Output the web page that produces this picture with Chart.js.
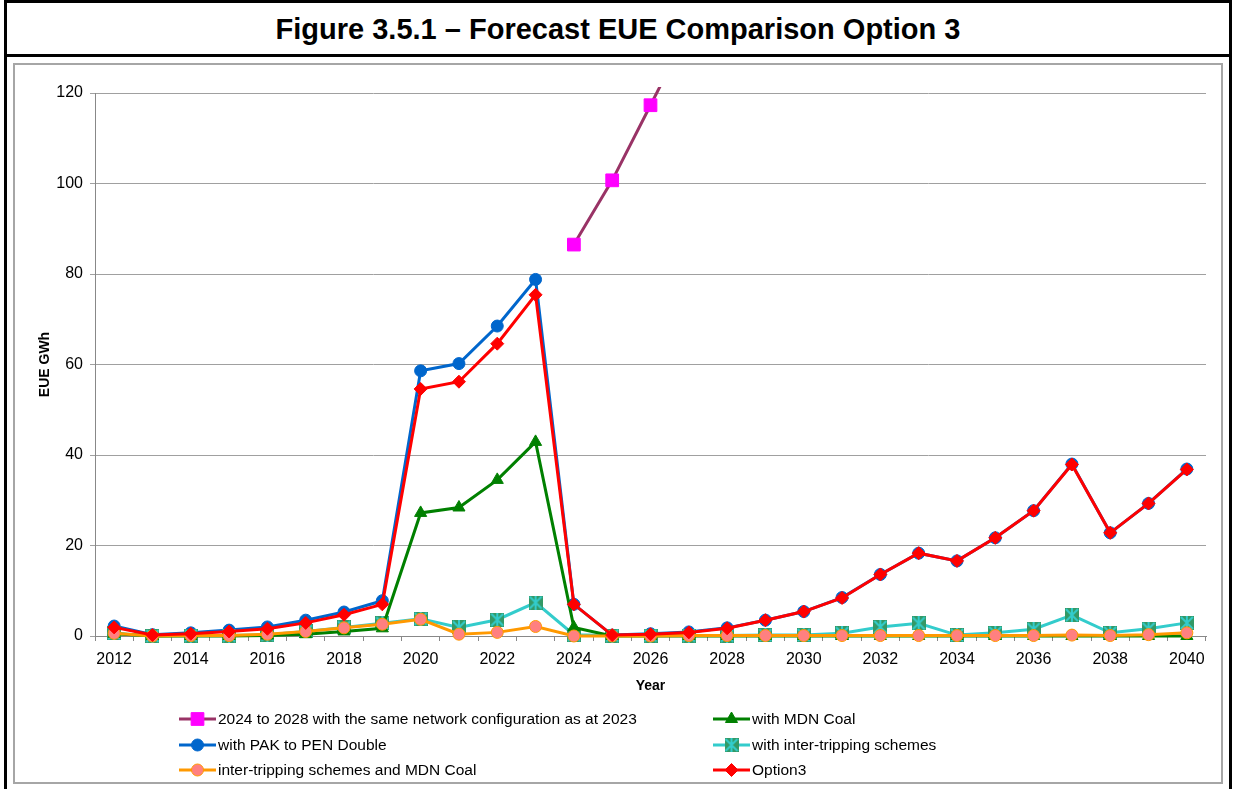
<!DOCTYPE html>
<html>
<head>
<meta charset="utf-8">
<script src="https://cdn.jsdelivr.net/npm/chart.js@4"></script>
<style>
  body { margin: 0; width: 1236px; height: 789px; overflow: hidden; background: #fff; position: relative;
         font-family: "Liberation Sans", Arial, sans-serif; }
  #frame { position: absolute; left: 4px; top: 0; width: 1228px; height: 820px; border: 3px solid #000; box-sizing: border-box; }
  #titlebar { position: absolute; left: 4px; top: 0; width: 1228px; height: 57px; border-bottom: 3px solid #000; box-sizing: border-box;
              text-align: center; font-weight: bold; font-size: 29px; line-height: 58px; color: #000; }
  #plotbox { position: absolute; left: 13px; top: 63px; width: 1210px; height: 721px; border: 2px solid #a6a6a6; box-sizing: border-box; }
  #chart { position: absolute; left: 0; top: 0; }
</style>
</head>
<body>
<div id="frame"></div>
<div id="titlebar">Figure 3.5.1 – Forecast EUE Comparison Option 3</div>
<div id="plotbox"></div>
<canvas id="chart" width="1236" height="789"></canvas>
<script>
const years = ["2012","2013","2014","2015","2016","2017","2018","2019","2020","2021","2022","2023","2024","2025",
  "2026","2027","2028","2029","2030","2031","2032","2033","2034","2035","2036","2037","2038","2039","2040"];

const sameNetwork = [null,null,null,null,null,null,null,null,null,null,null,null,
  86.5,100.7,117.3,134,152, null,null,null,null,null,null,null,null,null,null,null,null];
const mdnCoal = [0.5,0,0,0,0.1,0.4,1.0,1.7,27.2,28.4,34.5,42.9,1.9,0,0,0,0,0,0,0,0,0,0,0,0,0,0,0,0];
const pakPenDouble = [2.2,0.3,0.7,1.3,2.0,3.5,5.3,7.8,58.6,60.2,68.5,78.8,7.0,0.2,0.5,0.9,1.8,3.5,5.4,8.5,
  13.6,18.3,16.6,21.7,27.7,38.0,22.8,29.3,36.9];
const interTripping = [0.6,0.0,0.1,0.1,0.3,1.0,1.9,2.8,3.8,1.9,3.6,7.4,0.3,0.1,0.1,0.1,0.1,0.2,0.2,0.6,
  2.0,2.8,0.2,0.7,1.5,4.6,0.7,1.6,2.9];
const interTrippingMdn = [0.6,0.0,0.1,0.1,0.4,1.0,1.8,2.6,3.7,0.4,0.8,2.1,0.0,0.0,0.0,0.1,0.1,0.1,0.1,0.1,
  0.1,0.1,0.1,0.1,0.1,0.2,0.1,0.3,0.7];
const option3 = [1.9,0.2,0.5,1.0,1.6,2.9,4.7,7.0,54.6,56.2,64.6,75.4,7.0,0.2,0.4,0.8,1.7,3.5,5.4,8.4,
  13.6,18.3,16.6,21.7,27.7,37.9,22.8,29.3,36.8];

const seriesNames = [
  "2024 to 2028 with the same network configuration as at 2023",
  "with MDN Coal",
  "with PAK to PEN Double",
  "with inter-tripping schemes",
  "inter-tripping schemes and MDN Coal",
  "Option3"
];
const yTicks = [0, 20, 40, 60, 80, 100, 120];

const FONT = "'Liberation Sans', Arial, sans-serif";

// square marker with an asterisk, like the excel one
function starSquare() {
  const c = document.createElement("canvas");
  c.width = 14; c.height = 14;
  const g = c.getContext("2d");
  g.fillStyle = "#339966";
  g.fillRect(0, 0, 14, 14);
  g.strokeStyle = "#33cccc";
  g.lineWidth = 2;
  g.beginPath();
  g.moveTo(1, 1); g.lineTo(13, 13);
  g.moveTo(13, 1); g.lineTo(1, 13);
  g.moveTo(7, 0); g.lineTo(7, 14);
  g.stroke();
  return c;
}
const starMarker = starSquare();

function ds(label, data, line, fill, border, style, radius, order) {
  return {
    label, data, order,
    borderColor: line, borderWidth: 3,
    pointBackgroundColor: fill, pointBorderColor: border, pointBorderWidth: 1,
    pointStyle: style, pointRadius: radius, pointHoverRadius: radius,
    tension: 0, spanGaps: false,
    clip: { left: 10, top: 6, right: 10, bottom: 10 }
  };
}

const datasets = [
  ds(seriesNames[0], sameNetwork, "#993366", "#ff00ff", "#ff00ff", "rect", 9, 5),
  ds(seriesNames[1], mdnCoal, "#008000", "#008000", "#008000", "triangle", 7, 2),
  ds(seriesNames[2], pakPenDouble, "#0066cc", "#0066cc", "#0066cc", "circle", 6, 4),
  ds(seriesNames[3], interTripping, "#33cccc", "#339966", "#339966", starMarker, 7, 3),
  ds(seriesNames[4], interTrippingMdn, "#ff9900", "#ff8080", "#ff9900", "circle", 6, 1),
  ds(seriesNames[5], option3, "#ff0000", "#ff0000", "#ff0000", "rectRot", 6.5, 0)
];

// two-column legend like the excel one
const legendPlugin = {
  id: "excelLegend",
  afterDraw(chart) {
    const ctx = chart.ctx;
    const cols = [179, 713];
    const rows = [719, 745, 770];
    ctx.save();
    chart.data.datasets.forEach((d, i) => {
      const x = cols[i % 2];
      const y = rows[Math.floor(i / 2)];
      ctx.strokeStyle = d.borderColor;
      ctx.lineWidth = 3;
      ctx.beginPath();
      ctx.moveTo(x, y);
      ctx.lineTo(x + 37, y);
      ctx.stroke();
      ctx.fillStyle = d.pointBackgroundColor;
      ctx.strokeStyle = d.pointBorderColor;
      ctx.lineWidth = 1;
      Chart.helpers.drawPoint(ctx, { pointStyle: d.pointStyle, radius: d.pointRadius, rotation: 0, borderWidth: 1 }, x + 18.5, y);
      ctx.fillStyle = "#000";
      ctx.font = "15.5px " + FONT;
      ctx.textBaseline = "middle";
      ctx.textAlign = "left";
      ctx.fillText(d.label, x + 39, y + 1);
    });
    ctx.restore();
  }
};

new Chart(document.getElementById("chart"), {
  type: "line",
  data: { labels: years, datasets },
  options: {
    responsive: false,
    animation: false,
    devicePixelRatio: 1,
    layout: { padding: { left: 13, right: 30, top: 93, bottom: 91 } },
    plugins: { legend: { display: false }, tooltip: { enabled: false }, title: { display: false } },
    scales: {
      x: {
        offset: true,
        afterFit: s => { s.height = 62; },
        grid: { offset: true, drawOnChartArea: false, drawTicks: true, tickLength: 5, color: "#888" },
        border: { color: "#888", width: 1 },
        ticks: {
          autoSkip: false, maxRotation: 0, padding: 9, color: "#000",
          font: { family: FONT, size: 16 },
          callback: (v, i) => (i % 2 === 0 ? years[i] : "")
        },
        title: { display: true, text: "Year", color: "#000", font: { family: FONT, size: 14, weight: "bold" }, padding: { top: 0, bottom: 3 } }
      },
      y: {
        min: 0, max: 120,
        afterFit: s => { s.width = 82; },
        afterBuildTicks: s => { s.ticks = yTicks.map(v => ({ value: v })); },
        grid: { color: "#a0a0a0", lineWidth: 1, tickLength: 5, drawTicks: true },
        border: { color: "#888", width: 1 },
        ticks: { padding: 7, color: "#000", font: { family: FONT, size: 16 } },
        title: { display: true, text: "EUE GWh", color: "#000", font: { family: FONT, size: 14, weight: "bold" }, padding: { top: 24, bottom: 0 } }
      }
    }
  },
  plugins: [legendPlugin]
});
</script>
</body>
</html>
